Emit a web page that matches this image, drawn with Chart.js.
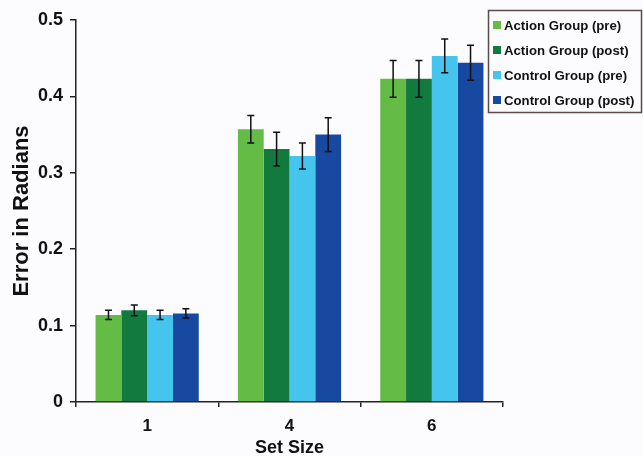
<!DOCTYPE html>
<html>
<head>
<meta charset="utf-8">
<script src="https://cdn.jsdelivr.net/npm/chart.js@4.4.0/dist/chart.umd.min.js"></script>
<style>
    html, body { margin: 0; padding: 0; background: #fcfcfe; }
    #wrap { width: 643px; height: 456px; position: relative; }
</style>
</head>
<body>
<div id="wrap"><canvas id="chart"></canvas></div>
<script>
// Data
const categories = ['1', '4', '6'];
const seriesNames = ['Action Group (pre)', 'Action Group (post)', 'Control Group (pre)', 'Control Group (post)'];
const actionPre = [0.114, 0.357, 0.423];
const actionPost = [0.120, 0.331, 0.423];
const controlPre = [0.114, 0.322, 0.453];
const controlPost = [0.116, 0.350, 0.444];
const actionPreErr = [0.006, 0.018, 0.024];
const actionPostErr = [0.007, 0.022, 0.024];
const controlPreErr = [0.006, 0.017, 0.022];
const controlPostErr = [0.006, 0.022, 0.023];
const yTicks = [0, 0.1, 0.2, 0.3, 0.4, 0.5];

const colors = ['#64bc46', '#127a3e', '#45c5ee', '#1749a0'];
const FONT = '"Liberation Sans", Arial, sans-serif';

const seriesValues = [actionPre, actionPost, controlPre, controlPost];
const seriesErrors = [actionPreErr, actionPostErr, controlPreErr, controlPostErr];

// background fill
const bgPlugin = {
    id: 'bg',
    beforeDraw(chart) {
        const ctx = chart.ctx;
        ctx.save();
        ctx.fillStyle = '#fcfcfe';
        ctx.fillRect(0, 0, chart.width, chart.height);
        ctx.restore();
    }
};

// error bars drawn from the bar elements
const errorBars = {
    id: 'errorBars',
    afterDatasetsDraw(chart) {
        const ctx = chart.ctx;
        const y = chart.scales.y;
        ctx.save();
        ctx.strokeStyle = '#111';
        ctx.lineWidth = 1.5;
        chart.data.datasets.forEach((ds, i) => {
            chart.getDatasetMeta(i).data.forEach((bar, j) => {
                const v = ds.data[j];
                const e = ds.errors[j];
                const top = y.getPixelForValue(v + e);
                const bot = y.getPixelForValue(v - e);
                const cap = 3.5;
                ctx.beginPath();
                ctx.moveTo(bar.x, top); ctx.lineTo(bar.x, bot);
                ctx.moveTo(bar.x - cap, top); ctx.lineTo(bar.x + cap, top);
                ctx.moveTo(bar.x - cap, bot); ctx.lineTo(bar.x + cap, bot);
                ctx.stroke();
            });
        });
        ctx.restore();
    }
};

// boxed legend at top right
const boxLegend = {
    id: 'boxLegend',
    afterDraw(chart) {
        const ctx = chart.ctx;
        ctx.save();
        ctx.strokeStyle = '#5a4a4a';
        ctx.lineWidth = 1.5;
        ctx.strokeRect(488.5, 10.5, 153, 102);
        ctx.font = 'bold 13.2px ' + FONT;
        ctx.textBaseline = 'middle';
        chart.data.datasets.forEach((ds, i) => {
            const cy = 25 + i * 25;
            ctx.fillStyle = ds.backgroundColor;
            ctx.fillRect(493, cy - 4, 8, 8);
            ctx.fillStyle = '#111';
            ctx.fillText(ds.label, 504, cy + 1);
        });
        ctx.restore();
    }
};

new Chart(document.getElementById('chart'), {
    type: 'bar',
    data: {
        labels: categories,
        datasets: seriesNames.map((name, i) => ({
            label: name,
            data: seriesValues[i],
            errors: seriesErrors[i],
            backgroundColor: colors[i],
            borderWidth: 0,
            barPercentage: 1.0,
            categoryPercentage: 0.725
        }))
    },
    options: {
        responsive: true,
        maintainAspectRatio: false,
        animation: false,
        layout: { padding: { left: 0, top: 20, right: 140, bottom: 0 } },
        plugins: {
            legend: { display: false },
            tooltip: { enabled: false }
        },
        scales: {
            x: {
                grid: { offset: true, drawOnChartArea: false, tickLength: 5, color: '#222', lineWidth: 1.5 },
                border: { color: '#222', width: 1.5 },
                ticks: { color: '#111', font: { family: FONT, size: 17, weight: 'bold' }, padding: 9 },
                title: { display: true, text: 'Set Size', color: '#111', font: { family: FONT, size: 18, weight: 'bold' }, padding: { top: 0, bottom: -3 } },
                afterFit(scale) { scale.height = 54; }
            },
            y: {
                min: 0,
                max: 0.5,
                afterBuildTicks(scale) { scale.ticks = yTicks.map(v => ({ value: v })); },
                grid: { drawOnChartArea: false, tickLength: 6, color: '#222', lineWidth: 1.5 },
                border: { color: '#222', width: 1.5 },
                ticks: {
                    color: '#111',
                    font: { family: FONT, size: 18, weight: 'bold' },
                    padding: 7,
                    callback: v => (v === 0 ? '0' : v.toFixed(1))
                },
                title: { display: true, text: 'Error in Radians', color: '#111', font: { family: FONT, size: 22, weight: 'bold' }, padding: { top: 9, bottom: 0 } },
                afterFit(scale) { scale.width = 76; }
            }
        }
    },
    plugins: [bgPlugin, errorBars, boxLegend]
});
</script>
</body>
</html>
